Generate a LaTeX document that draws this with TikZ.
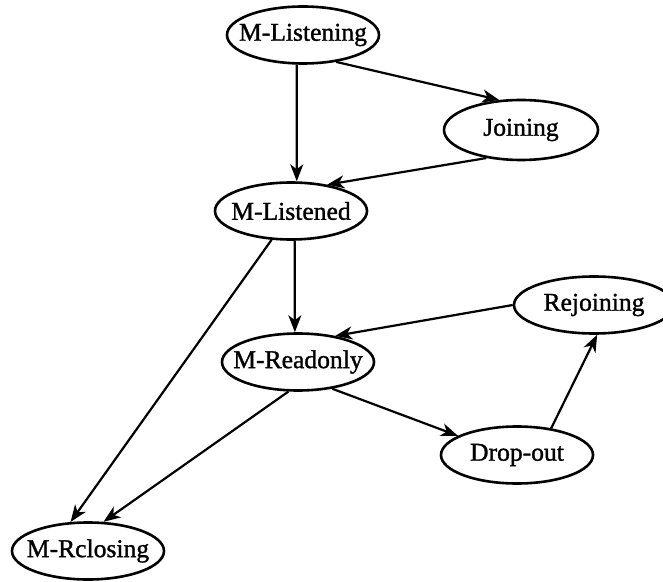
\documentclass[tikz,border=0pt]{standalone}
\usepackage{fontspec}
\setmainfont{Liberation Serif}
\newfontfamily\statefont{Liberation Serif}[FakeBold=1.2]
\usetikzlibrary{arrows.meta, shapes.geometric}

% keeps the label from widening the ellipse
\newcommand{\statename}[1]{\makebox[0pt]{\raisebox{-1pt}{#1}}}

\begin{document}
\begin{tikzpicture}[
    x=0.5pt, y=-0.5pt,
    font=\statefont\fontsize{12.8}{15}\selectfont,
    state/.style={draw, ellipse, line width=1.3pt, inner sep=0pt, minimum width=76pt, minimum height=28.5pt},
    trans/.style={-{Stealth[length=8.5pt, width=6.5pt, inset=2.5pt]}, line width=1.1pt}
]
    \useasboundingbox (0,0) rectangle (663,582);
    \clip (0,0) rectangle (663,582);

    % States
    \node[state] (lsn) at (303,35) {\statename{M-Listening}};
    \node[state, minimum width=77pt, minimum height=30pt] (join) at (521,130) {\statename{Joining}};
    \node[state] (lsd) at (291,211) {\statename{M-Listened}};
    \node[state, minimum width=80pt] (rejoin) at (594,305) {\statename{Rejoining}};
    \node[state] (rdo) at (298,362) {\statename{M-Readonly}};
    \node[state] (drop) at (517,455) {\statename{Drop-out}};
    \node[state] (rcl) at (88,551) {\statename{M-Rclosing}};

    % Transitions
    \draw[trans] (lsn.-39) -- (join.126);
    \draw[trans] (lsn.-102) -- (lsd.79);
    \draw[trans] (join.-141) -- (lsd.36);
    \draw[trans] (lsd.-83) -- (rdo.96);
    \draw[trans] (rejoin.west) -- (rdo.35);
    \draw[trans] (rdo.-38) -- (drop.162);
    \draw[trans] (drop.38) -- (rejoin.-84);
    \draw[trans] (lsd.-124) -- (rcl.121);
    \draw[trans] (rdo.-108) -- (rcl.62);
\end{tikzpicture}
\end{document}
